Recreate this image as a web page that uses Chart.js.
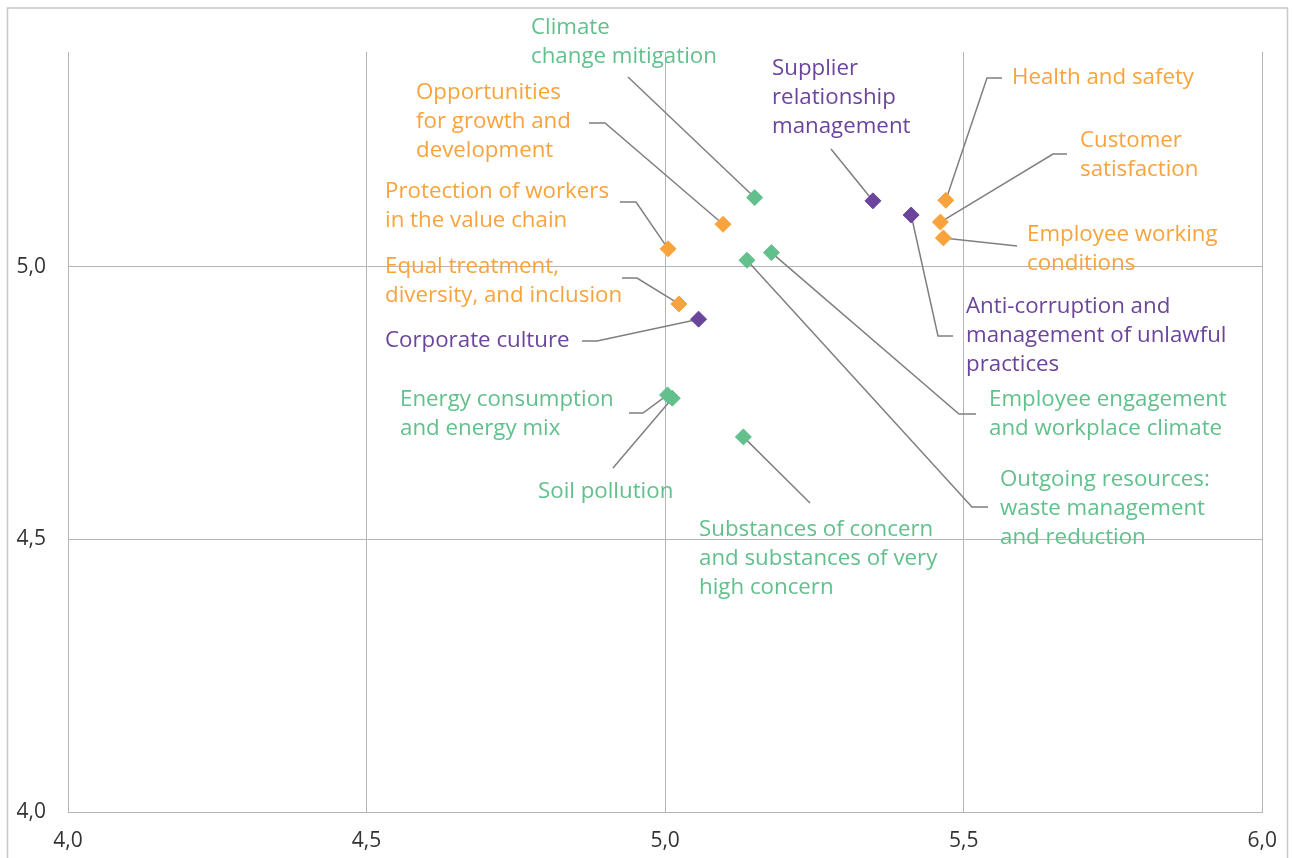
<!DOCTYPE html>
<html>
<head>
<meta charset="utf-8">
<title>Materiality matrix</title>
<script src="https://cdn.jsdelivr.net/npm/chart.js@4.4.1/dist/chart.umd.min.js"></script>
<style>
  html, body { margin: 0; padding: 0; background: #fff; overflow: hidden; }
  .chart-box { position: relative; width: 1293px; height: 858px; }
</style>
</head>
<body>
<div class="chart-box"><canvas id="matrixChart" width="1293" height="858"></canvas></div>
<script>
// --- data ---
const envTopics = ['Climate change mitigation', 'Energy consumption and energy mix', 'Soil pollution',
    'Substances of concern and substances of very high concern', 'Outgoing resources: waste management and reduction',
    'Employee engagement and workplace climate'];
const envX = [5.150, 5.004, 5.012, 5.131, 5.137, 5.178];
const envY = [5.127, 4.765, 4.759, 4.688, 5.012, 5.026];

const socTopics = ['Opportunities for growth and development', 'Protection of workers in the value chain',
    'Equal treatment, diversity, and inclusion', 'Health and safety', 'Customer satisfaction',
    'Employee working conditions'];
const socX = [5.097, 5.005, 5.023, 5.470, 5.461, 5.466];
const socY = [5.078, 5.033, 4.932, 5.122, 5.082, 5.053];

const govTopics = ['Supplier relationship management', 'Anti-corruption and management of unlawful practices',
    'Corporate culture'];
const govX = [5.348, 5.412, 5.056];
const govY = [5.121, 5.095, 4.904];

const xTicks = [4.0, 4.5, 5.0, 5.5, 6.0];
const yTicks = [4.0, 4.5, 5.0];
const xTickLabels = ['4,0', '4,5', '5,0', '5,5', '6,0'];
const yTickLabels = ['4,0', '4,5', '5,0'];

// --- look ---
const GREEN = '#62c08d';
const ORANGE = '#f8a33c';
const PURPLE = '#6b449b';
const FONT = '"Open Sans", "Noto Sans", sans-serif';

// label placement: text start (x, first baseline) and leader bends, canvas px
const callouts = {
    'Climate change mitigation': { lines: ['Climate', 'change mitigation'], x: 531, y: 34, leader: [[628, 77]] },
    'Opportunities for growth and development': { lines: ['Opportunities', 'for growth and', 'development'], x: 416, y: 99, leader: [[589, 123], [605, 123]] },
    'Protection of workers in the value chain': { lines: ['Protection of workers', 'in the value chain'], x: 385, y: 198, leader: [[620, 202], [636, 202]] },
    'Equal treatment, diversity, and inclusion': { lines: ['Equal treatment,', 'diversity, and inclusion'], x: 385, y: 273, leader: [[622, 278], [637, 278]] },
    'Corporate culture': { lines: ['Corporate culture'], x: 385, y: 347, leader: [[582, 341], [597, 341]] },
    'Energy consumption and energy mix': { lines: ['Energy consumption', 'and energy mix'], x: 400, y: 406, leader: [[629, 413], [643, 413]] },
    'Soil pollution': { lines: ['Soil pollution'], x: 538, y: 498, leader: [[613, 468]] },
    'Substances of concern and substances of very high concern': { lines: ['Substances of concern', 'and substances of very', 'high concern'], x: 699, y: 536, leader: [[810, 503]] },
    'Outgoing resources: waste management and reduction': { lines: ['Outgoing resources:', 'waste management', 'and reduction'], x: 1000, y: 486, leader: [[988, 507], [972, 507]] },
    'Employee engagement and workplace climate': { lines: ['Employee engagement', 'and workplace climate'], x: 989, y: 406, leader: [[976, 414], [959, 414]] },
    'Anti-corruption and management of unlawful practices': { lines: ['Anti-corruption and', 'management of unlawful', 'practices'], x: 966, y: 313, leader: [[953, 336], [938, 336]] },
    'Employee working conditions': { lines: ['Employee working', 'conditions'], x: 1027, y: 241, leader: [[1017, 246]] },
    'Customer satisfaction': { lines: ['Customer', 'satisfaction'], x: 1080, y: 147, leader: [[1067, 154], [1053, 154]] },
    'Health and safety': { lines: ['Health and safety'], x: 1012, y: 84, leader: [[1002, 78], [987, 78]] },
    'Supplier relationship management': { lines: ['Supplier', 'relationship', 'management'], x: 772, y: 75, leader: [[831, 149]] }
};
const LINE_GAP = 28.8;

function toPoints(xs, ys) {
    return xs.map((x, i) => ({ x: x, y: ys[i] }));
}

// frame, leader lines and topic labels
const calloutPlugin = {
    id: 'callouts',
    beforeDraw(chart) {
        const ctx = chart.ctx;
        ctx.save();
        ctx.strokeStyle = '#c8c8c8';
        ctx.lineWidth = 1.5;
        ctx.strokeRect(7.5, 8, 1280, 900);
        ctx.restore();
    },
    beforeDatasetsDraw(chart) {
        const ctx = chart.ctx;
        ctx.save();
        ctx.strokeStyle = '#7f7f7f';
        ctx.lineWidth = 1.5;
        chart.data.datasets.forEach((ds, di) => {
            chart.getDatasetMeta(di).data.forEach((pt, i) => {
                const c = callouts[ds.topics[i]];
                if (!c) return;
                ctx.beginPath();
                ctx.moveTo(c.leader[0][0], c.leader[0][1]);
                c.leader.slice(1).forEach(p => ctx.lineTo(p[0], p[1]));
                ctx.lineTo(pt.x, pt.y);
                ctx.stroke();
            });
        });
        ctx.restore();
    },
    afterDatasetsDraw(chart) {
        const ctx = chart.ctx;
        ctx.save();
        ctx.font = '22.3px ' + FONT;
        ctx.textAlign = 'left';
        ctx.textBaseline = 'alphabetic';
        chart.data.datasets.forEach(ds => {
            ctx.fillStyle = ds.backgroundColor;
            ds.topics.forEach(t => {
                const c = callouts[t];
                if (!c) return;
                c.lines.forEach((line, k) => ctx.fillText(line, c.x, c.y + k * LINE_GAP));
            });
        });
        ctx.restore();
    }
};

const ctx = document.getElementById('matrixChart').getContext('2d');

new Chart(ctx, {
    type: 'scatter',
    data: {
        datasets: [
            { label: 'Environment / workforce', topics: envTopics, data: toPoints(envX, envY), backgroundColor: GREEN, borderColor: GREEN },
            { label: 'Social', topics: socTopics, data: toPoints(socX, socY), backgroundColor: ORANGE, borderColor: ORANGE },
            { label: 'Governance', topics: govTopics, data: toPoints(govX, govY), backgroundColor: PURPLE, borderColor: PURPLE }
        ]
    },
    options: {
        responsive: false,
        animation: false,
        layout: { padding: { left: 0, top: 52, right: 27, bottom: 0 } },
        elements: {
            point: { pointStyle: 'rectRot', radius: 8, borderWidth: 1, hoverRadius: 8 }
        },
        plugins: {
            legend: { display: false },
            tooltip: { enabled: false }
        },
        scales: {
            x: {
                type: 'linear',
                min: 4.0,
                max: 6.0,
                afterBuildTicks: axis => { axis.ticks = xTicks.map(v => ({ value: v })); },
                afterFit: scale => { scale.height = 46; },
                grid: { color: '#b5b5b5', lineWidth: 1, drawTicks: false },
                border: { color: '#b5b5b5', width: 1 },
                ticks: {
                    padding: 16,
                    color: '#333',
                    font: { family: FONT, size: 21 },
                    callback: (v, i) => xTickLabels[i]
                }
            },
            y: {
                type: 'linear',
                min: 4.0,
                max: 5.394,
                afterBuildTicks: axis => { axis.ticks = yTicks.map(v => ({ value: v })); },
                afterFit: scale => { scale.width = 68; },
                grid: { color: '#b5b5b5', lineWidth: 1, drawTicks: false },
                border: { color: '#b5b5b5', width: 1 },
                ticks: {
                    padding: 22,
                    color: '#333',
                    font: { family: FONT, size: 21 },
                    callback: (v, i) => yTickLabels[i]
                }
            }
        }
    },
    plugins: [calloutPlugin]
});
</script>
</body>
</html>
